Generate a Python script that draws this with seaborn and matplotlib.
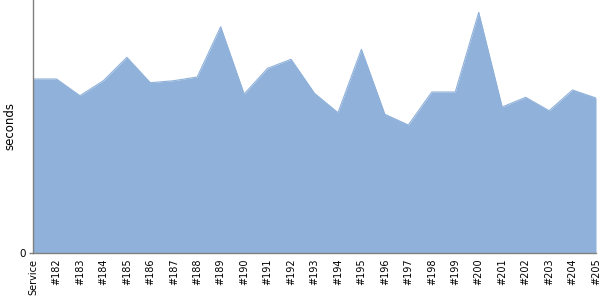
import matplotlib
matplotlib.use("Agg")
import matplotlib.pyplot as plt
import seaborn as sns
import pandas as pd

builds = ["Service", "#182", "#183", "#184", "#185", "#186", "#187", "#188", "#189",
          "#190", "#191", "#192", "#193", "#194", "#195", "#196", "#197", "#198",
          "#199", "#200", "#201", "#202", "#203", "#204", "#205"]
seconds = [174, 174, 157.3, 172.3, 195.7, 170.3, 172.3, 176, 226.3,
           159, 184.7, 193.7, 159.7, 140.3, 203.7, 138.7, 128, 161,
           161, 240.7, 146, 155.7, 142.3, 163, 155]

sns.set_style("white")
plt.rcParams['font.family'] = ['DejaVu Sans']
plt.rcParams['text.color'] = 'black'
plt.rcParams['axes.labelcolor'] = 'black'
plt.rcParams['xtick.color'] = 'black'
plt.rcParams['ytick.color'] = 'black'

df = pd.DataFrame({"build": builds, "seconds": seconds})
df["pos"] = range(len(df))

fig = plt.figure(figsize=(6, 3), dpi=100)
ax = fig.add_axes([33/600, 47/300, 563/600, 253/300])
sns.lineplot(data=df, x="pos", y="seconds", ax=ax, color="#8fb1da", linewidth=0.8)
ax.fill_between(df["pos"], df["seconds"], 0, color="#8fb1da", linewidth=0)

ax.set_xlim(0, len(builds) - 1)
ax.set_ylim(0, 253)
ax.set_xticks(df["pos"])
ax.set_xticklabels(builds, rotation=90, fontsize=7)
ax.set_yticks([0])
ax.set_yticklabels(["0"], fontsize=7.5)
ax.set_xlabel("")
ax.set_ylabel("seconds", fontsize=8.5)
ax.yaxis.set_label_coords(-0.029, 0.5)

for side in ["top", "right"]:
    ax.spines[side].set_visible(False)
for side in ["left", "bottom"]:
    ax.spines[side].set_color("#808080")
    ax.spines[side].set_linewidth(1)
ax.tick_params(axis="y", length=3, width=1, color="#808080", labelcolor="black", left=True, pad=2)
ax.tick_params(axis="x", length=0, pad=4, labelcolor="black")

fig.savefig("out.png", dpi=100)
